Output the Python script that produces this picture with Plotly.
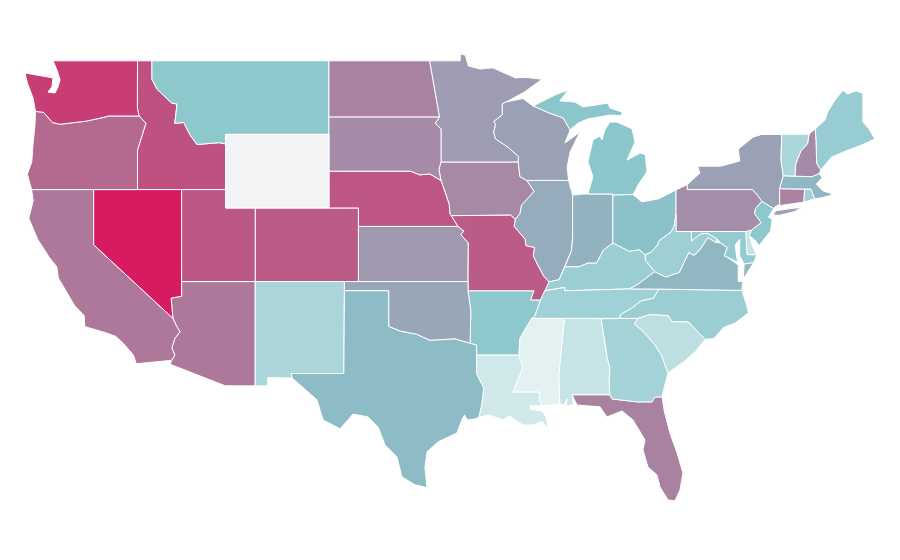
import plotly.graph_objects as go
from plotly.colors import sample_colorscale

# NOTE: the reference's basemap cannot be loaded here (plotly's usa_110m topojson needs the CDN),
# so state outlines below are hand-approximated lon/lat boundaries, not authoritative geography.
states = ["AL","AZ","AR","CA","CO","CT","DE","FL","GA","ID","IL","IN","IA","KS","KY","LA","ME","MD","MA","MI","MN","MS","MO","MT","NE","NV","NH","NJ","NM","NY","NC","ND","OH","OK","OR","PA","RI","SC","SD","TN","TX","UT","VT","VA","WA","WV","WI","WY"]
values = [11,62,29,62,74,58,12,58,22,78,41,38,55,49,25,8,26,27,36,30,47,2,74,29,76,100,54,29,20,45,25,58,32,43,68,53,23,14,54,23,34,75,20,36,86,24,45,0]
scale = [[0,"#f2f3f5"],[0.01,"#e6f3f4"],[0.3,"#8ac6cc"],[1,"#d81b60"]]

outlines = {
"WA":[[(-124.66,48.34),(-124.5,47.8),(-124.1,46.95),(-123.95,46.25),(-123.4,46.2),(-122.8,45.65),(-122.3,45.55),(-121.2,45.65),(-120.5,45.72),(-119.3,45.93),(-118.98,46.0),(-116.92,46.0),(-117.04,46.42),(-117.03,49),(-122.76,49),(-122.49,48.5),(-122.28,47.96),(-122.42,47.58),(-122.62,47.25),(-123.1,47.3),(-122.83,47.58),(-122.76,48.07),(-123.1,48.12)]],
"OR":[[(-123.95,46.25),(-123.98,45.5),(-124.1,44.6),(-124.2,43.5),(-124.5,42.84),(-124.21,42.0),(-120,42),(-117.03,42),(-117.03,44.15),(-116.46,45.6),(-116.92,46.0),(-118.98,46.0),(-119.3,45.93),(-120.5,45.72),(-121.2,45.65),(-122.3,45.55),(-122.8,45.65),(-123.4,46.2)]],
"CA":[[(-124.21,42.0),(-124.1,41.4),(-124.4,40.44),(-123.8,39.3),(-123.0,38.3),(-122.5,37.8),(-122.4,37.2),(-121.95,36.6),(-121.3,35.7),(-120.65,35.15),(-120.6,34.55),(-119.3,34.25),(-118.5,34.02),(-118.0,33.65),(-117.3,33.0),(-117.12,32.53),(-114.72,32.72),(-114.5,33.0),(-114.7,33.4),(-114.5,33.9),(-114.15,34.27),(-114.4,34.6),(-114.63,35.0),(-120,39),(-120,42)]],
"NV":[[(-120,42),(-114.04,42),(-114.04,36.2),(-114.75,36.1),(-114.63,35.0),(-120,39)]],
"AZ":[[(-114.63,35.0),(-114.75,36.1),(-114.04,36.2),(-114.04,37),(-109.05,37),(-109.05,31.33),(-111.07,31.33),(-114.81,32.5),(-114.72,32.72),(-114.5,33.0),(-114.7,33.4),(-114.5,33.9),(-114.15,34.27),(-114.4,34.6)]],
"UT":[[(-114.04,42),(-111.05,42),(-111.05,41),(-109.05,41),(-109.05,37),(-114.04,37)]],
"CO":[[(-109.05,41),(-102.05,41),(-102.05,37),(-109.05,37)]],
"WY":[[(-111.05,45),(-104.05,45),(-104.05,41),(-111.05,41)]],
"NM":[[(-109.05,37),(-103.0,37),(-103.04,32),(-106.62,32),(-106.55,31.76),(-108.2,31.78),(-108.2,31.33),(-109.05,31.33)]],
"ID":[[(-117.03,49),(-116.05,49),(-116.05,48),(-115.7,47.45),(-114.7,46.7),(-114.35,46.65),(-114.5,45.6),(-113.9,45.65),(-113.45,44.95),(-113.0,44.45),(-111.5,44.55),(-111.05,44.48),(-111.05,42),(-117.03,42),(-117.03,44.15),(-116.46,45.6),(-116.92,46.0),(-117.04,46.42)]],
"MT":[[(-116.05,49),(-104.05,49),(-104.05,45),(-111.05,45),(-111.05,44.48),(-111.5,44.55),(-113.0,44.45),(-113.45,44.95),(-113.9,45.65),(-114.5,45.6),(-114.35,46.65),(-114.7,46.7),(-115.7,47.45),(-116.05,48)]],
"ND":[[(-104.05,49),(-97.23,49),(-96.56,45.94),(-104.05,45.94)]],
"SD":[[(-104.05,45.94),(-96.56,45.94),(-96.85,45.6),(-96.45,45.3),(-96.45,43.5),(-96.6,43.1),(-96.45,42.49),(-97.2,42.85),(-97.9,42.8),(-98.5,43),(-104.05,43)]],
"NE":[[(-104.05,43),(-98.5,43),(-97.9,42.8),(-97.2,42.85),(-96.45,42.49),(-96.1,41.7),(-95.9,41.2),(-95.85,40.7),(-95.31,40),(-102.05,40),(-102.05,41),(-104.05,41)]],
"KS":[[(-102.05,40),(-95.31,40),(-94.9,39.75),(-95.1,39.55),(-94.6,39.1),(-94.62,37),(-102.05,37)]],
"OK":[[(-103,37),(-94.62,37),(-94.62,36.5),(-94.43,35.4),(-94.48,33.64),(-95.5,33.88),(-96.6,33.83),(-97.2,33.8),(-98.1,34.13),(-99.2,34.3),(-100,34.56),(-100,36.5),(-103,36.5)]],
"TX":[[(-103,36.5),(-100,36.5),(-100,34.56),(-99.2,34.3),(-98.1,34.13),(-97.2,33.8),(-96.6,33.83),(-95.5,33.88),(-94.48,33.64),(-94.04,33.55),(-94.04,31.99),(-93.55,31.2),(-93.7,30.3),(-93.88,29.62),(-94.15,29.53),(-94.68,29.48),(-94.85,29.75),(-95.03,29.5),(-95.37,28.77),(-96.66,28.28),(-97.4,27.74),(-97.54,26.92),(-97.4,25.8),(-98.2,25.95),(-99.1,26.38),(-99.44,27.47),(-100.25,28.12),(-100.72,29.1),(-101.4,29.64),(-102.42,29.8),(-102.75,29.48),(-103.3,29.0),(-104.45,29.48),(-104.86,30.57),(-106.55,31.76),(-106.62,32),(-103.04,32)]],
"MN":[[(-97.23,49),(-95.15,49),(-95.15,49.38),(-94.8,49.3),(-94.6,48.72),(-93.8,48.55),(-92.95,48.62),(-92,48.3),(-91.4,48.07),(-90.75,48.1),(-89.6,48),(-90.8,47.3),(-92.1,46.75),(-92.3,46.65),(-92.29,46.07),(-92.87,45.7),(-92.75,45.55),(-92.88,45.1),(-92.75,44.75),(-91.9,44.3),(-91.2,43.8),(-91.22,43.5),(-96.45,43.5),(-96.45,45.3),(-96.85,45.6),(-96.56,45.94)]],
"IA":[[(-96.45,43.5),(-91.22,43.5),(-91.1,42.7),(-90.64,42.5),(-90.15,41.9),(-91,41.15),(-91.1,40.7),(-91.42,40.38),(-91.73,40.61),(-95.77,40.58),(-95.85,40.7),(-95.9,41.2),(-96.1,41.7),(-96.45,42.49),(-96.6,43.1)]],
"MO":[[(-95.77,40.58),(-91.73,40.61),(-91.42,40.38),(-91.5,40),(-90.75,39.3),(-90.7,38.95),(-90.12,38.85),(-90.2,38.4),(-89.9,37.9),(-89.5,37.3),(-89.13,36.98),(-89.42,36.5),(-89.7,36),(-90.37,36),(-90.15,36.5),(-94.62,36.5),(-94.62,37),(-94.6,39.1),(-95.1,39.55),(-94.9,39.75),(-95.31,40)]],
"AR":[[(-94.62,36.5),(-90.15,36.5),(-90.37,36),(-89.7,36),(-90.1,35.1),(-90.6,34.6),(-91.1,33.9),(-91.17,33),(-94.04,33),(-94.04,33.55),(-94.48,33.64),(-94.43,35.4)]],
"LA":[[(-94.04,33),(-91.17,33),(-90.9,32.3),(-91.57,31),(-89.74,31),(-89.8,30.6),(-89.6,30.25),(-90.4,30.25),(-90.4,30.05),(-89.6,29.95),(-89.3,29.6),(-89.2,29.0),(-89.6,29.4),(-90.2,29.2),(-90.9,29.2),(-91.8,29.7),(-92.25,29.48),(-93.2,29.75),(-93.88,29.62),(-93.7,30.3),(-93.55,31.2),(-94.04,31.99)]],
"MS":[[(-90.3,35),(-88.2,35),(-88.1,34.9),(-88.47,31.9),(-88.4,30.35),(-89.6,30.25),(-89.8,30.6),(-89.74,31),(-91.57,31),(-90.9,32.3),(-91.17,33),(-91.1,33.9),(-90.6,34.6)]],
"AL":[[(-88.2,35),(-85.6,34.98),(-85.18,32.87),(-85,32.3),(-85.05,31.55),(-85,30.84),(-87.57,30.84),(-87.5,30.3),(-87.95,30.25),(-87.9,30.65),(-88.1,30.3),(-88.4,30.35),(-88.47,31.9),(-88.1,34.9)]],
"GA":[[(-85.6,34.98),(-83.1,35),(-83.35,34.7),(-82.75,34.3),(-81.9,33.5),(-81.5,33),(-81.1,32.1),(-81.06,32.03),(-81.3,31.3),(-81.47,30.73),(-81.95,30.73),(-82.15,30.46),(-83.17,30.46),(-84.86,30.62),(-85,30.84),(-85.05,31.55),(-85,32.3),(-85.18,32.87)]],
"FL":[[(-87.57,30.84),(-85,30.84),(-84.86,30.62),(-83.17,30.46),(-82.15,30.46),(-81.95,30.73),(-81.47,30.73),(-81.3,29.9),(-80.93,28.77),(-80.45,27.69),(-80.05,26.6),(-80.25,25.67),(-80.59,25.08),(-81.06,25.13),(-81.61,25.84),(-81.81,26.49),(-82.42,26.92),(-82.76,27.85),(-82.62,28.39),(-83.44,29.48),(-84.18,29.97),(-85.2,29.64),(-85.67,30.19),(-87.23,30.29)]],
"SC":[[(-83.1,35),(-82.3,35.2),(-81.05,35.15),(-80.8,34.82),(-79.67,34.8),(-78.55,33.86),(-79.2,33.2),(-79.9,32.7),(-81.06,32.03),(-81.1,32.1),(-81.5,33),(-81.9,33.5),(-82.75,34.3),(-83.35,34.7)]],
"NC":[[(-84.32,35),(-83.1,35),(-82.3,35.2),(-81.05,35.15),(-80.8,34.82),(-79.67,34.8),(-78.55,33.86),(-77.95,33.9),(-77.3,34.5),(-76.5,34.75),(-75.6,35.3),(-75.77,35.84),(-76.05,36.52),(-81.68,36.59),(-82.05,36.1),(-82.9,35.95),(-83.5,35.57),(-84.3,35.2)]],
"TN":[[(-90.3,35),(-88.2,35),(-85.6,34.98),(-84.32,35),(-84.3,35.2),(-83.5,35.57),(-82.9,35.95),(-82.05,36.1),(-81.68,36.59),(-83.68,36.6),(-88.07,36.5),(-88.07,36.68),(-89.42,36.5),(-89.7,36),(-90.1,35.1)]],
"KY":[[(-89.42,36.5),(-88.07,36.68),(-88.07,36.5),(-83.68,36.6),(-83.1,36.85),(-81.97,37.54),(-82.6,38.17),(-82.6,38.45),(-83,38.73),(-83.7,38.65),(-84.8,39.1),(-85.45,38.7),(-85.9,38),(-86.5,38),(-87.1,37.8),(-88.05,37.8),(-88.45,37.1),(-89.13,36.98)]],
"IL":[[(-90.64,42.5),(-87.8,42.5),(-87.53,41.7),(-87.53,39.35),(-87.6,38.7),(-88.05,37.8),(-88.45,37.1),(-89.13,36.98),(-89.5,37.3),(-89.9,37.9),(-90.2,38.4),(-90.12,38.85),(-90.7,38.95),(-90.75,39.3),(-91.5,40),(-91.42,40.38),(-91.1,40.7),(-91,41.15),(-90.15,41.9)]],
"IN":[[(-87.53,41.7),(-86.8,41.76),(-84.8,41.76),(-84.8,39.1),(-85.45,38.7),(-85.9,38),(-86.5,38),(-87.1,37.8),(-88.05,37.8),(-87.6,38.7),(-87.53,39.35)]],
"OH":[[(-84.8,41.7),(-83.45,41.73),(-82.83,41.33),(-81.7,41.5),(-80.52,41.98),(-80.52,40.64),(-80.65,40),(-80.85,39.7),(-81.7,39.2),(-81.75,39),(-82.2,38.6),(-82.6,38.45),(-83,38.73),(-83.7,38.65),(-84.8,39.1)]],
"PA":[[(-80.52,41.98),(-79.76,42.27),(-79.76,42),(-75.35,42),(-75.05,41.75),(-74.7,41.36),(-75.13,40.98),(-75.2,40.7),(-74.75,40.2),(-75.4,39.8),(-75.79,39.72),(-80.52,39.72),(-80.52,40.64)]],
"NY":[[(-79.76,42.27),(-78.9,42.9),(-79.05,43.27),(-77.5,43.27),(-76.2,43.55),(-76.3,44.2),(-75.3,44.85),(-74.7,45),(-73.35,45),(-73.4,43.6),(-73.25,42.75),(-73.5,42.05),(-73.49,41.2),(-73.73,41.1),(-73.9,40.98),(-74.7,41.36),(-75.05,41.75),(-75.35,42),(-79.76,42)],[(-73.94,40.62),(-73.75,40.85),(-72.6,40.98),(-71.98,41.03),(-72.5,40.8),(-73.5,40.6)]],
"NJ":[[(-74.7,41.36),(-73.9,40.98),(-74.25,40.5),(-74,40.4),(-74.1,39.75),(-74.9,38.95),(-75.1,39.2),(-75.55,39.5),(-75.4,39.8),(-74.75,40.2),(-75.2,40.7),(-75.13,40.98)]],
"VT":[[(-73.35,45),(-71.5,45.01),(-71.6,44.5),(-72.05,44.1),(-72.4,43.4),(-72.46,42.73),(-73.25,42.75),(-73.4,43.6)]],
"NH":[[(-71.5,45.01),(-71.08,45.3),(-71.03,44.65),(-70.98,43.4),(-70.7,43.07),(-70.82,42.87),(-71.3,42.7),(-72.46,42.73),(-72.4,43.4),(-72.05,44.1),(-71.6,44.5)]],
"ME":[[(-71.08,45.3),(-70.4,45.8),(-70.25,46.2),(-69.74,46.87),(-69.2,47.4),(-68.9,47.2),(-68.3,47.36),(-67.85,47.25),(-67.85,45.67),(-67.45,45.3),(-67.03,44.75),(-68,44.4),(-69,44.1),(-70,43.75),(-70.7,43.07),(-70.98,43.4),(-71.03,44.65)]],
"MA":[[(-73.5,42.05),(-73.25,42.75),(-72.46,42.73),(-71.3,42.7),(-70.82,42.87),(-70.6,42.65),(-71,42.3),(-70.6,41.95),(-70.05,41.8),(-70.2,42.05),(-69.95,41.7),(-70.65,41.55),(-71.12,41.5),(-71.38,42.02),(-71.8,42.02)]],
"CT":[[(-73.5,42.05),(-71.8,42.02),(-71.85,41.32),(-73.73,41.1),(-73.49,41.2)]],
"RI":[[(-71.8,42.02),(-71.38,42.02),(-71.12,41.5),(-71.85,41.32)]],
"DE":[[(-75.79,39.72),(-75.55,39.83),(-75.4,39.8),(-75.55,39.5),(-75.4,39.05),(-75.05,38.45),(-75.7,38.46)]],
"MD":[[(-79.48,39.72),(-75.79,39.72),(-75.7,38.46),(-75.05,38.45),(-75.25,38.03),(-75.9,37.95),(-76.2,38.4),(-76.2,39.3),(-76.5,39),(-76.4,38.3),(-76.3,38.05),(-77,38.3),(-77.25,38.4),(-77.05,38.85),(-77.5,39.1),(-77.75,39.32),(-78.4,39.62),(-78.8,39.6),(-79.05,39.47),(-79.48,39.2)]],
"VA":[[(-83.68,36.6),(-81.68,36.59),(-76.05,36.52),(-76,37),(-76.3,37),(-76.3,37.9),(-77,38.3),(-77.25,38.4),(-77.05,38.85),(-77.5,39.1),(-77.83,39.13),(-78.35,39.4),(-78.87,38.77),(-79.3,38.42),(-79.65,38.58),(-80.3,37.5),(-81.2,37.25),(-81.97,37.54),(-83.1,36.85)],[(-75.25,38.03),(-75.9,37.95),(-75.95,37.15)]],
"WV":[[(-80.52,40.64),(-80.52,39.72),(-79.48,39.72),(-79.48,39.2),(-79.05,39.47),(-78.8,39.6),(-78.4,39.62),(-77.75,39.32),(-77.83,39.13),(-78.35,39.4),(-78.87,38.77),(-79.3,38.42),(-79.65,38.58),(-80.3,37.5),(-81.2,37.25),(-81.97,37.54),(-82.6,38.17),(-82.6,38.45),(-82.2,38.6),(-81.75,39),(-81.7,39.2),(-80.85,39.7),(-80.65,40)]],
"MI":[[(-86.49,41.76),(-84.8,41.76),(-84.8,41.7),(-83.45,41.73),(-83.3,41.9),(-83.1,42.25),(-82.49,42.96),(-82.6,43.9),(-82.96,43.99),(-83.84,43.6),(-83.3,44.59),(-83.5,45.3),(-84.52,45.67),(-85,45.67),(-85.34,45.24),(-85.54,44.7),(-85.67,44.91),(-86.15,44.7),(-86.49,43.5),(-86.15,42.7)],[(-90.22,46.54),(-88.72,47.14),(-87.84,47.41),(-88.39,46.82),(-87.37,46.76),(-86.83,46.49),(-85.13,46.7),(-85,46.43),(-84.18,46.22),(-84.2,46.02),(-85,46.05),(-86.49,45.84),(-87.15,45.62),(-87.7,45.24),(-88.18,45.89),(-89.1,46.15)]],
"WI":[[(-92.1,46.75),(-90.9,46.95),(-90.22,46.54),(-89.1,46.15),(-88.18,45.89),(-87.7,45.24),(-88.05,44.53),(-87.03,45.13),(-87.7,44.04),(-87.9,43.2),(-87.8,42.5),(-90.64,42.5),(-91.1,42.7),(-91.22,43.5),(-91.2,43.8),(-91.9,44.3),(-92.75,44.75),(-92.88,45.1),(-92.75,45.55),(-92.87,45.7),(-92.29,46.07),(-92.3,46.65)]],
}

fig = go.Figure()
for state, value in zip(states, values):
    color = sample_colorscale(scale, value / 100)[0]
    lon, lat = [], []
    for ring in outlines[state]:
        lon += [p[0] for p in ring] + [ring[0][0], None]
        lat += [p[1] for p in ring] + [ring[0][1], None]
    fig.add_trace(go.Scatter(x=lon, y=lat, mode="lines", fill="toself", fillcolor=color,
                             line=dict(color="white", width=1), name=state, showlegend=False,
                             hovertemplate=f"{state}: {value}<extra></extra>"))

fig.update_xaxes(range=[-125.81, -64.79], visible=False)
fig.update_yaxes(range=[21.43, 51.87], visible=False)
fig.update_layout(margin=dict(l=0, r=0, t=0, b=0), width=900, height=560,
                  paper_bgcolor="white", plot_bgcolor="white")
fig.write_html("out.html")
